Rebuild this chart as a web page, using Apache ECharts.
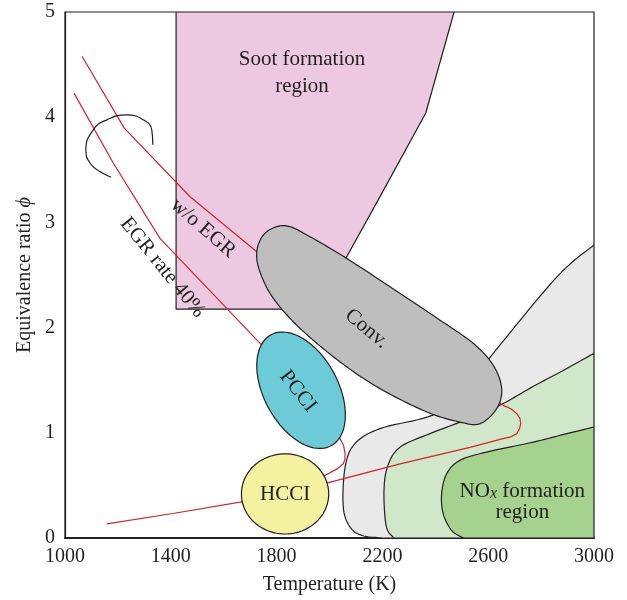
<!DOCTYPE html>
<html>
<head>
<meta charset="utf-8">
<script src="https://cdn.jsdelivr.net/npm/echarts@6/dist/echarts.min.js"></script>
<style>
  html, body { margin: 0; padding: 0; background: #fff; }
  #chart { width: 627px; height: 600px; }
</style>
</head>
<body>
<div id="chart"></div>
<script>
// Axis ranges and ticks (temperature in K, equivalence ratio)
const xTicks = [1000, 1400, 1800, 2200, 2600, 3000];
const yTicks = [0, 1, 2, 3, 4, 5];

// Soot formation region: [temperature, phi]
const sootRegion = [[1420, 5], [2471, 5], [2364, 4.04], [2191, 3.245], [2065, 2.673], [1955, 2.175], [1420, 2.175]];

// NOx regions: curved boundary from the right edge down to the phi = 0 axis
const noxOuterEdge = [[3000, 2.785], [2859, 2.48], [2607, 1.718], [2493, 1.357], [2388, 1.166], [2191, 1.04],
  [2096, 0.897], [2059, 0.674], [2052, 0.293], [2078, 0.103], [2123, 0.024], [2199, 0]];
const noxMiddleEdge = [[3000, 1.756], [2897, 1.611], [2771, 1.442], [2651, 1.271], [2531, 1.138], [2380, 0.992],
  [2267, 0.864], [2221, 0.69], [2206, 0.452], [2214, 0.119], [2240, 0.01], [2255, 0]];
const noxInnerEdge = [[3000, 1.055], [2897, 0.992], [2771, 0.912], [2594, 0.817], [2493, 0.738], [2443, 0.611],
  [2424, 0.421], [2430, 0.23], [2462, 0.071], [2506, 0]];

// Combustion regimes
const convRegion = [[1725, 2.721], [1750, 2.88], [1800, 2.959], [1851, 2.959], [1926, 2.864], [2065, 2.658],
  [2229, 2.388], [2418, 2.071], [2544, 1.849], [2619, 1.642], [2651, 1.42], [2632, 1.23], [2569, 1.087],
  [2493, 1.102], [2368, 1.198], [2191, 1.42], [2040, 1.674], [1889, 1.992], [1788, 2.277], [1737, 2.53]];
// PCCI ellipse: ends of the long axis and the short/long axis ratio
const pcciAxisEnds = [[1779, 1.932], [2006, 0.877]];
const pcciAxisRatio = 0.587;
// HCCI ellipse: centre and radii
const hcciCenter = [1832, 0.419];
const hcciRadius = [165, 0.381];

// Combustion paths
const noEgrPath = [[1065, 4.577], [1224, 3.896], [1473, 3.244], [1725, 2.721], [2657, 1.261], [2686, 1.228],
  [2708, 1.182], [2720, 1.138], [2723, 1.087], [2718, 1.038], [2708, 0.992], [2686, 0.962], [2656, 0.944],
  [2531, 0.862], [2267, 0.704], [1989, 0.522], [1662, 0.341], [1408, 0.233], [1158, 0.135]];
const egr40Path = [[1034, 4.229], [1183, 3.562], [1359, 2.848], [1744, 1.833], [2040, 0.944], [2053, 0.881],
  [2059, 0.802], [2058, 0.747], [2052, 0.706], [2032, 0.662], [1983, 0.595], [1907, 0.452]];
const arcMark = [[1332, 3.737], [1328, 3.88], [1296, 3.975], [1233, 4.022], [1158, 3.975], [1107, 3.88],
  [1079, 3.689], [1095, 3.562], [1132, 3.483], [1174, 3.429]];

// Annotation texts and anchor points
const annotations = [
  { name: 'soot', at: [1896, 4.42], angle: 0 },
  { name: 'conv', at: [2140, 1.99], angle: -40 },
  { name: 'pcci', at: [1881, 1.395], angle: -52 },
  { name: 'hcci', at: [1832, 0.41], angle: 0 },
  { name: 'noegr', at: [1522, 2.946], angle: -41 },
  { name: 'egr', at: [1369, 2.57], angle: -51 },
  { name: 'nox', at: [2729, 0.341], angle: 0 }
];
const annotationText = {
  soot: '{t|Soot formation}\n{t|region}',
  conv: '{t|Conv.}',
  pcci: '{t|PCCI}',
  hcci: '{t|HCCI}',
  noegr: '{t|w/o EGR}',
  egr: '{t|EGR rate 40%}',
  nox: '{n|NO}{x|x}{n| formation}\n{n|region}'
};

const FONT = '"Liberation Serif", "Times New Roman", serif';
const INK = '#231f20';
const RED = '#d2232a';

// Catmull-Rom resampling in pixel space
function catmull(p, closed, steps) {
  const n = p.length, out = [];
  const get = i => closed ? p[(i + n) % n] : p[Math.max(0, Math.min(n - 1, i))];
  const segs = closed ? n : n - 1;
  for (let i = 0; i < segs; i++) {
    const p0 = get(i - 1), p1 = get(i), p2 = get(i + 1), p3 = get(i + 2);
    for (let s = 0; s < steps; s++) {
      const t = s / steps, t2 = t * t, t3 = t2 * t;
      out.push([0, 1].map(k => 0.5 * (2 * p1[k] + (-p0[k] + p2[k]) * t +
        (2 * p0[k] - 5 * p1[k] + 4 * p2[k] - p3[k]) * t2 + (-p0[k] + 3 * p1[k] - 3 * p2[k] + p3[k]) * t3)));
    }
  }
  if (!closed) out.push(p[n - 1]);
  return out;
}

function polygonSeries(z, fill, build) {
  return {
    type: 'custom', coordinateSystem: 'cartesian2d', clip: true, silent: true, z: z,
    data: [[hcciCenter[0], hcciCenter[1]]],
    renderItem: function (params, api) {
      return { type: 'polygon', shape: { points: build(api) },
        style: { fill: fill, stroke: INK, lineWidth: 1.2, lineJoin: 'round' } };
    }
  };
}

// straight polygon
const plainShape = pts => api => pts.map(p => api.coord(p));
// closed smooth outline
const blobShape = pts => api => catmull(pts.map(p => api.coord(p)), true, 12);
// smooth edge closed along the right and bottom frame
const edgeShape = pts => api => catmull(pts.map(p => api.coord(p)), false, 10).concat([api.coord([3000, 0])]);
// axis-aligned ellipse from centre and radii
const ellipseShape = (c, r) => api => {
  const o = api.coord(c), s = api.size(r), out = [];
  for (let i = 0; i < 96; i++) {
    const a = i / 96 * Math.PI * 2;
    out.push([o[0] + s[0] * Math.cos(a), o[1] + s[1] * Math.sin(a)]);
  }
  return out;
};
// tilted ellipse from the two ends of its long axis
const tiltedEllipseShape = (ends, ratio) => api => {
  const p1 = api.coord(ends[0]), p2 = api.coord(ends[1]);
  const cx = (p1[0] + p2[0]) / 2, cy = (p1[1] + p2[1]) / 2;
  const ux = (p2[0] - p1[0]) / 2, uy = (p2[1] - p1[1]) / 2;
  const vx = -uy * ratio, vy = ux * ratio, out = [];
  for (let i = 0; i < 96; i++) {
    const a = i / 96 * Math.PI * 2, c = Math.cos(a), s = Math.sin(a);
    out.push([cx + ux * c + vx * s, cy + uy * c + vy * s]);
  }
  return out;
};

function pathSeries(z, pts, color, smooth) {
  return {
    type: 'line', z: z, silent: true, data: pts, symbol: 'none', smooth: smooth,
    lineStyle: { color: color, width: 1.2 }, clip: true
  };
}

const tickText = v => String(v);

const chart = echarts.init(document.getElementById('chart'));
chart.setOption({
  animation: false,
  backgroundColor: '#fff',
  grid: { left: 65, right: 33, top: 12, bottom: 62, show: true, borderColor: INK, borderWidth: 1.2,
    backgroundColor: 'transparent', outerBoundsMode: 'none' },
  xAxis: {
    type: 'value', min: xTicks[0], max: xTicks[xTicks.length - 1], interval: xTicks[1] - xTicks[0],
    axisLine: { show: true, onZero: false, lineStyle: { color: INK, width: 2 } },
    axisTick: { show: false }, splitLine: { show: false },
    axisLabel: { fontFamily: FONT, fontSize: 20, color: INK, margin: 9, formatter: tickText },
    name: 'Temperature (K)', nameLocation: 'middle', nameGap: 37, nameMoveOverlap: false,
    nameTextStyle: { fontFamily: FONT, fontSize: 20, color: INK }
  },
  yAxis: {
    type: 'value', min: yTicks[0], max: yTicks[yTicks.length - 1], interval: yTicks[1] - yTicks[0],
    axisLine: { show: true, onZero: false, lineStyle: { color: INK, width: 1.2 } },
    axisTick: { show: false }, splitLine: { show: false },
    axisLabel: { fontFamily: FONT, fontSize: 20, color: INK, margin: 10, formatter: tickText },
    name: '{n|Equivalence ratio }{p|ϕ}', nameLocation: 'middle', nameGap: 30, nameMoveOverlap: false,
    nameTextStyle: { fontFamily: FONT, fontSize: 20, color: INK,
      rich: { n: { fontFamily: FONT, fontSize: 20, color: INK },
              p: { fontFamily: FONT, fontSize: 20, color: INK, fontStyle: 'italic' } } }
  },
  series: [
    polygonSeries(2, '#ecc9e0', plainShape(sootRegion)),
    polygonSeries(3, '#e9e9e9', edgeShape(noxOuterEdge)),
    polygonSeries(4, '#d1e7c9', edgeShape(noxMiddleEdge)),
    polygonSeries(5, '#a6d28f', edgeShape(noxInnerEdge)),
    pathSeries(6, noEgrPath, RED, false),
    pathSeries(6, egr40Path, RED, false),
    pathSeries(6, arcMark, INK, 0.5),
    polygonSeries(7, '#bebebe', blobShape(convRegion)),
    polygonSeries(8, '#6ccbd6', tiltedEllipseShape(pcciAxisEnds, pcciAxisRatio)),
    polygonSeries(9, '#f4f1a0', ellipseShape(hcciCenter, hcciRadius)),
    {
      type: 'scatter', z: 10, silent: true, symbolSize: 1,
      itemStyle: { color: INK, opacity: 0 },
      data: annotations.map(a => ({
        name: a.name, value: a.at,
        label: { rotate: a.angle }
      })),
      label: {
        show: true, position: 'inside', align: 'center', verticalAlign: 'middle',
        color: INK, opacity: 1, textBorderWidth: 0, textShadowBlur: 0,
        formatter: p => annotationText[p.name],
        rich: {
          t: { fontFamily: FONT, fontSize: 21, color: INK, lineHeight: 27, textBorderWidth: 0 },
          n: { fontFamily: FONT, fontSize: 21, color: INK, lineHeight: 21, textBorderWidth: 0 },
          x: { fontFamily: FONT, fontSize: 16, color: INK, fontStyle: 'italic', lineHeight: 21,
               verticalAlign: 'bottom', textBorderWidth: 0 }
        }
      }
    }
  ]
});
</script>
</body>
</html>
